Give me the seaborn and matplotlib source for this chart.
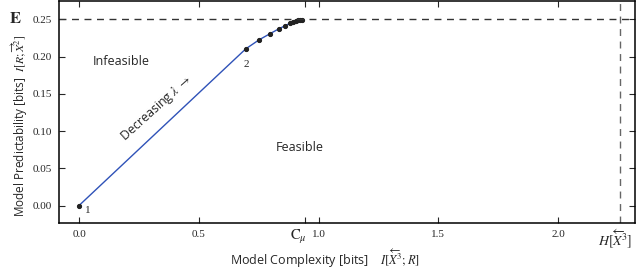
import pandas as pd
import seaborn as sns
import matplotlib.pyplot as plt

# Points along the optimal trade-off curve
complexity = [0.0, 0.696, 0.751, 0.798, 0.833, 0.861, 0.881, 0.895, 0.906, 0.916, 0.923, 0.930]
predictability = [0.0, 0.2104, 0.2224, 0.2309, 0.2371, 0.2416, 0.2447, 0.2465, 0.2478, 0.2487, 0.2491, 0.2495]

excess_entropy = 0.25     # E
c_mu = 0.944              # statistical complexity
block_entropy = 2.256     # H[X^3]

x_ticks = [0.0, 0.5, 1.0, 1.5, 2.0]
x_tick_labels = ["0.0", "0.5", "1.0", "1.5", "2.0"]
y_ticks = [0.00, 0.05, 0.10, 0.15, 0.20, 0.25]
y_tick_labels = ["0.00", "0.05", "0.10", "0.15", "0.20", "0.25"]

df = pd.DataFrame({"complexity": complexity, "predictability": predictability})

sns.set_style("ticks")
plt.rcParams['font.family'] = ['Open Sans', 'DejaVu Sans']
plt.rcParams['mathtext.fontset'] = 'stix'

fig = plt.figure(figsize=(6.4, 2.79), dpi=100)
ax = fig.add_axes([0.092, 0.2, 0.9, 0.796])

sns.lineplot(data=df, x="complexity", y="predictability", ax=ax, color="#2f52b8",
             linewidth=1.0, marker="o", markersize=3, markerfacecolor="#222222",
             markeredgecolor="#222222")

ax.axhline(excess_entropy, color="#333333", linestyle=(0, (5, 4)), linewidth=1.0)
ax.axvline(block_entropy, color="#666666", linestyle=(0, (5, 4)), linewidth=1.0)

ax.set_xlim(-0.084, 2.32)
ax.set_ylim(-0.0237, 0.2745)
ax.set_xticks(x_ticks)
ax.set_xticklabels(x_tick_labels, fontfamily="Liberation Serif", fontsize=8)
ax.set_yticks(y_ticks)
ax.set_yticklabels(y_tick_labels, fontfamily="Liberation Serif", fontsize=8)
ax.set_xticks([c_mu], minor=True)
ax.tick_params(which="both", direction="in", top=True, right=True, length=4, width=0.8, pad=5)
for s in ax.spines.values():
    s.set_linewidth(1.1)
    s.set_color("black")

ax.set_xlabel(r"Model Complexity [bits]    $I[\overleftarrow{X}^3;R]$", fontsize=9)
ax.xaxis.set_label_coords(0.462, -0.11)
ax.set_ylabel(r"Model Predictability [bits]  $I[R;\overrightarrow{X}^2]$", fontsize=8.5)
ax.yaxis.set_label_coords(-0.05, 0.44)

# annotations
ax.text(0.058, 0.194, "Infeasible", fontsize=9, va="center", ha="left")
ax.text(0.92, 0.078, "Feasible", fontsize=9, va="center", ha="center")
ax.text(0.326, 0.131, r"Decreasing $\lambda$ $\rightarrow$", fontsize=9, rotation=42,
        va="center", ha="center")
ax.text(0.038, -0.006, "1", fontfamily="Liberation Serif", fontsize=8, va="center", ha="center")
ax.text(0.70, 0.19, "2", fontfamily="Liberation Serif", fontsize=8, va="center", ha="center")
ax.text(-0.064, excess_entropy, r"$\mathbf{E}$", fontsize=12, va="center", ha="right",
        transform=ax.get_yaxis_transform())
ax.text(0.952, -0.06, r"$\mathrm{C}_{\mu}$", fontsize=10.5, va="center", ha="right",
        transform=ax.get_xaxis_transform())
ax.text(2.239, -0.07, r"$H[\overleftarrow{X}^3]$", fontsize=10, va="center",
        ha="center", transform=ax.get_xaxis_transform())

fig.savefig("out.png", dpi=100)
